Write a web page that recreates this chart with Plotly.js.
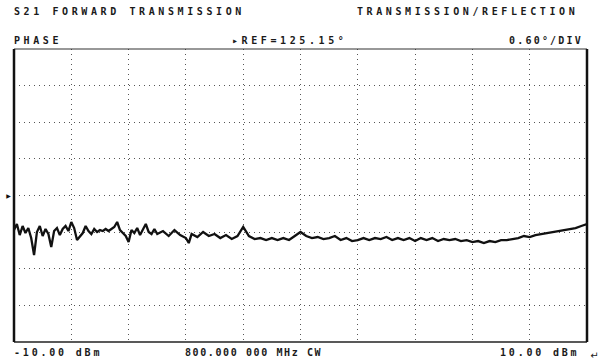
<!DOCTYPE html>
<html>
<head>
<meta charset="utf-8">
<script src="https://cdn.plot.ly/plotly-3.0.1.min.js"></script>
<style>
  html, body { margin: 0; padding: 0; background: #fff; }
  #chart { width: 605px; height: 362px; }
  #chart .annotation-text { letter-spacing: 3.6px; }
</style>
</head>
<body>
<div id="chart"></div>
<script>
// Power sweep (dBm) at CW 800 MHz
const powerDbm = [
  -10.0,-9.9,-9.8,-9.7,-9.6,-9.5,-9.4,-9.3,-9.2,-9.1,-9.0,-8.9,-8.8,-8.7,-8.6,-8.5,-8.4,-8.3,-8.2,-8.1,
  -8.0,-7.9,-7.8,-7.7,-7.6,-7.5,-7.4,-7.3,-7.2,-7.1,-7.0,-6.9,-6.8,-6.7,-6.6,-6.5,-6.4,-6.3,-6.2,-6.1,
  -6.0,-5.9,-5.8,-5.7,-5.6,-5.5,-5.4,-5.3,-5.2,-5.1,-5.0,
  -4.8,-4.6,-4.4,-4.2,-4.0,-3.9,-3.8,-3.6,-3.4,-3.2,-3.0,-2.8,-2.6,-2.4,-2.2,-2.0,-1.8,-1.6,-1.4,-1.2,
  -1.0,-0.8,-0.6,-0.4,-0.2,0.0,0.2,0.4,0.6,0.8,1.0,1.2,1.4,1.6,1.8,2.0,2.2,2.4,2.6,2.8,
  3.0,3.2,3.4,3.6,3.8,4.0,4.2,4.4,4.6,4.8,5.0,5.2,5.4,5.6,5.8,6.0,6.2,6.4,6.6,6.8,
  7.0,7.2,7.4,7.6,7.8,8.0,8.2,8.4,8.6,8.8,9.0,9.2,9.4,9.6,9.8,10.0
];
// S21 phase (degrees)
const phaseDeg = [
  124.584,124.683,124.502,124.650,124.535,124.617,124.453,124.175,124.552,124.650,
  124.486,124.601,124.519,124.306,124.568,124.617,124.502,124.601,124.650,124.568,
  124.716,124.617,124.420,124.486,124.535,124.650,124.568,124.519,124.601,124.552,
  124.584,124.568,124.601,124.568,124.601,124.634,124.716,124.584,124.535,124.486,
  124.388,124.584,124.535,124.617,124.502,124.584,124.683,124.552,124.519,124.601,124.519,
  124.568,124.486,124.584,124.502,124.453,124.371,124.519,124.470,124.552,124.486,
  124.519,124.453,124.502,124.437,124.486,124.634,124.486,124.437,124.453,124.420,
  124.453,124.420,124.453,124.420,124.486,124.552,124.486,124.453,124.470,124.437,
  124.453,124.486,124.420,124.453,124.404,124.420,124.453,124.420,124.453,124.437,
  124.470,124.420,124.453,124.420,124.453,124.404,124.453,124.420,124.453,124.404,
  124.437,124.420,124.437,124.404,124.420,124.388,124.404,124.371,124.404,124.388,
  124.420,124.420,124.437,124.453,124.486,124.470,124.502,124.519,124.535,124.552,
  124.568,124.584,124.601,124.617,124.650,124.683
];
const refValue = 125.15;
const perDiv = 0.60;
const xStart = -10, xStop = 10;

const headerLeft = "S21 FORWARD TRANSMISSION";
const headerRight = "TRANSMISSION/REFLECTION";
const formatLabel = "PHASE";
const refLabel = "▸REF=125.15°";
const scaleLabel = "0.60°/DIV";
const startLabel = "-10.00 dBm";
const cwLabel = "800.000 000 MHz CW";
const stopLabel = "10.00 dBm";

const L = 14, R = 587, T = 49, B = 342;
const W = R - L, H = B - T;
const px = v => (v - L) / W;
const py = v => (B - v) / H;

const font = {family: "DejaVu Sans Mono", size: 10, color: "#1a1a1a", weight: "bold"};
function ann(text, x, y, spacing) {
  const t = spacing == null ? text : '<span style="letter-spacing:' + spacing + 'px">' + text + '</span>';
  return {text: t, xref: "paper", yref: "paper", x: px(x), y: py(y),
    xanchor: "left", yanchor: "middle", showarrow: false, font: font, align: "left"};
}

const data = [{
  x: powerDbm, y: phaseDeg, type: "scatter", mode: "lines",
  line: {color: "#111", width: 2.3}, hoverinfo: "skip"
}];

const layout = {
  width: 605, height: 362,
  margin: {l: L, r: 605 - R, t: T, b: 362 - B, pad: 0},
  paper_bgcolor: "#fff", plot_bgcolor: "#fff",
  showlegend: false,
  xaxis: {range: [xStart, xStop], dtick: 2, tick0: -10, showticklabels: false, ticks: "",
    showgrid: true, gridcolor: "#555", gridwidth: 1, griddash: "1px,4px", zeroline: false, showline: false},
  yaxis: {range: [refValue - 4 * perDiv, refValue + 4 * perDiv], dtick: perDiv, tick0: refValue,
    showticklabels: false, ticks: "",
    showgrid: true, gridcolor: "#555", gridwidth: 1, griddash: "1px,4px", zeroline: false, showline: false},
  shapes: [
    {type: "line", xref: "paper", yref: "paper", x0: 0, x1: 1, y0: 1, y1: 1, line: {color: "#333", width: 1.2}},
    {type: "line", xref: "paper", yref: "paper", x0: 0, x1: 1, y0: 0, y1: 0, line: {color: "#222", width: 1.3}},
    {type: "line", xref: "paper", yref: "paper", x0: 0, x1: 0, y0: 0, y1: 1, line: {color: "#111", width: 2.5}},
    {type: "line", xref: "paper", yref: "paper", x0: 1, x1: 1, y0: 0, y1: 1, line: {color: "#111", width: 2.5}}
  ],
  annotations: [
    ann(headerLeft, 12, 12),
    ann(headerRight, 355, 12),
    ann(formatLabel, 12, 40),
    ann(refLabel, 230, 40),
    ann(scaleLabel, 507, 40, 2.2),
    ann(startLabel, 12, 352, 2.8),
    ann(cwLabel, 183, 352, 1.6),
    ann(stopLabel, 498, 352, 2.8),
    {text: "↵", xref: "paper", yref: "paper", x: px(596), y: py(355), xanchor: "center", yanchor: "middle",
      showarrow: false, font: {family: "DejaVu Sans", size: 10, color: "#222"}},
    {text: "▶", xref: "paper", yref: "y", x: px(10), y: refValue, xanchor: "center", yanchor: "middle",
      showarrow: false, font: {family: "DejaVu Sans", size: 6, color: "#111"}}
  ]
};

Plotly.newPlot("chart", data, layout, {displayModeBar: false, staticPlot: true});
</script>
</body>
</html>
